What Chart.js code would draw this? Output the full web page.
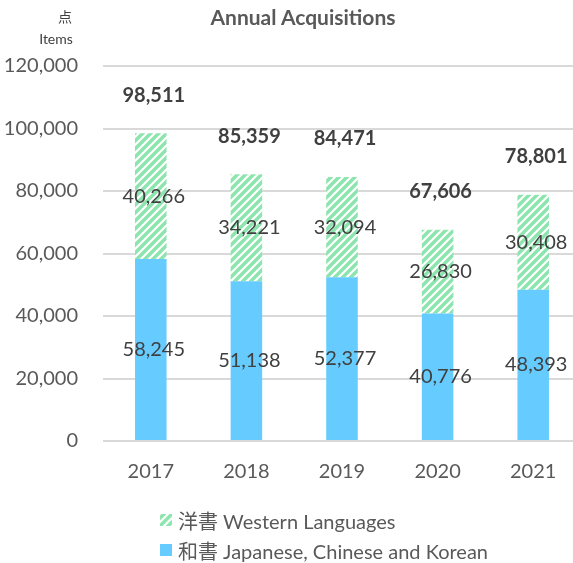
<!DOCTYPE html>
<html>
<head>
<meta charset="utf-8">
<script src="https://cdn.jsdelivr.net/npm/chart.js@4"></script>
<style>
  html, body { margin:0; padding:0; background:#fff; width:573px; height:563px; overflow:hidden; }
  #wrap { position:relative; width:573px; height:563px; overflow:hidden; font-family: Lato, "Noto Sans CJK JP", sans-serif; }
  #box { position:absolute; left:0; top:0; width:582px; height:563px; }
  .txt { position:absolute; white-space:nowrap; color:#595959; }
  #title { left:303px; top:4px; transform:translateX(-50%); font-weight:bold; font-size:21px; }
  #unit1 { left:65px; top:6px; transform:translateX(-50%); font-size:14px; color:#404040; }
  #unit2 { left:56px; top:30px; transform:translateX(-50%); font-size:14px; color:#404040; }
  #legend { position:absolute; left:160px; top:505px; font-size:20px; color:#595959; }
  .li { display:flex; align-items:center; height:30px; }
  .li canvas { width:12px; height:12px; margin-right:6px; }
</style>
</head>
<body>
<div id="wrap">
  <div id="box"><canvas id="c"></canvas></div>
  <div class="txt" id="title">Annual Acquisitions</div>
  <div class="txt" id="unit1">点</div>
  <div class="txt" id="unit2">Items</div>
  <div id="legend"></div>
</div>
<script>
const years = ['2017', '2018', '2019', '2020', '2021'];
const japaneseChineseKorean = [58245, 51138, 52377, 40776, 48393];
const western = [40266, 34221, 32094, 26830, 30408];
const seriesNames = ['和書 Japanese, Chinese and Korean', '洋書 Western Languages'];
const yTicks = [0, 20000, 40000, 60000, 80000, 100000, 120000];

const BLUE = '#66ccff';
const GREEN = '#8de5ae';

function makeHatch(ctxSrc) {
  const c = document.createElement('canvas');
  c.width = 8; c.height = 8;
  const x = c.getContext('2d');
  x.fillStyle = GREEN; x.fillRect(0, 0, 8, 8);
  x.strokeStyle = '#ffffff'; x.lineWidth = 2.2;
  x.beginPath();
  x.moveTo(0, 8); x.lineTo(8, 0);
  x.moveTo(-4, 4); x.lineTo(4, -4);
  x.moveTo(4, 12); x.lineTo(12, 4);
  x.stroke();
  return ctxSrc.createPattern(c, 'repeat');
}

const canvas = document.getElementById('c');
const ctx = canvas.getContext('2d');
const hatch = makeHatch(ctx);

const fmt = v => v.toLocaleString('en-US');

const labelPlugin = {
  id: 'labels',
  afterDatasetsDraw(chart) {
    const c = chart.ctx;
    c.save();
    c.textAlign = 'center';
    c.textBaseline = 'middle';
    c.fillStyle = '#404040';
    c.font = '20px Lato, "Noto Sans CJK JP", sans-serif';
    chart.data.datasets.forEach((ds, di) => {
      const meta = chart.getDatasetMeta(di);
      meta.data.forEach((bar, i) => {
        c.fillText(fmt(ds.data[i]), bar.x + 3, (bar.y + bar.base) / 2);
      });
    });
    const top = chart.getDatasetMeta(chart.data.datasets.length - 1);
    c.font = 'bold 20px Lato, "Noto Sans CJK JP", sans-serif';
    top.data.forEach((bar, i) => {
      const total = chart.data.datasets.reduce((s, ds) => s + ds.data[i], 0);
      c.fillText(fmt(total), bar.x + 3, bar.y - 38);
    });
    c.restore();
  }
};

const chart = new Chart(canvas, {
  type: 'bar',
  data: {
    labels: years,
    datasets: [
      { label: seriesNames[0], data: japaneseChineseKorean, backgroundColor: BLUE, borderWidth: 0 },
      { label: seriesNames[1], data: western, backgroundColor: hatch, borderWidth: 0 }
    ]
  },
  options: {
    responsive: true,
    maintainAspectRatio: false,
    animation: false,
    devicePixelRatio: 1,
    layout: { padding: { top: 66, bottom: 68, left: 0, right: 1 } },
    plugins: { legend: { display: false }, title: { display: false }, tooltip: { enabled: false } },
    datasets: { bar: { categoryPercentage: 1, barPercentage: 0.33 } },
    scales: {
      x: {
        stacked: true,
        grid: { display: false },
        border: { display: false },
        ticks: { color: '#595959', font: { family: 'Lato', size: 20 }, padding: 11 }
      },
      y: {
        stacked: true,
        min: 0, max: 120000,
        afterBuildTicks(scale) { scale.ticks = yTicks.map(v => ({ value: v })); },
        afterFit(scale) { scale.width = 103; },
        grid: { color: '#d9d9d9', lineWidth: 2, drawTicks: false },
        border: { display: false },
        ticks: { color: '#595959', font: { family: 'Lato', size: 20 }, padding: 25, callback: v => fmt(v) }
      }
    }
  },
  plugins: [labelPlugin]
});

// HTML legend built from datasets (reverse order, as in the reference)
const leg = document.getElementById('legend');
chart.data.datasets.slice().reverse().forEach(ds => {
  const row = document.createElement('div');
  row.className = 'li';
  const sw = document.createElement('canvas');
  sw.width = 12; sw.height = 12;
  const sc = sw.getContext('2d');
  sc.fillStyle = ds.backgroundColor === hatch ? makeHatch(sc) : ds.backgroundColor;
  sc.fillRect(0, 0, 12, 12);
  const t = document.createElement('span');
  t.textContent = ds.label;
  row.appendChild(sw); row.appendChild(t);
  leg.appendChild(row);
});
</script>
</body>
</html>
